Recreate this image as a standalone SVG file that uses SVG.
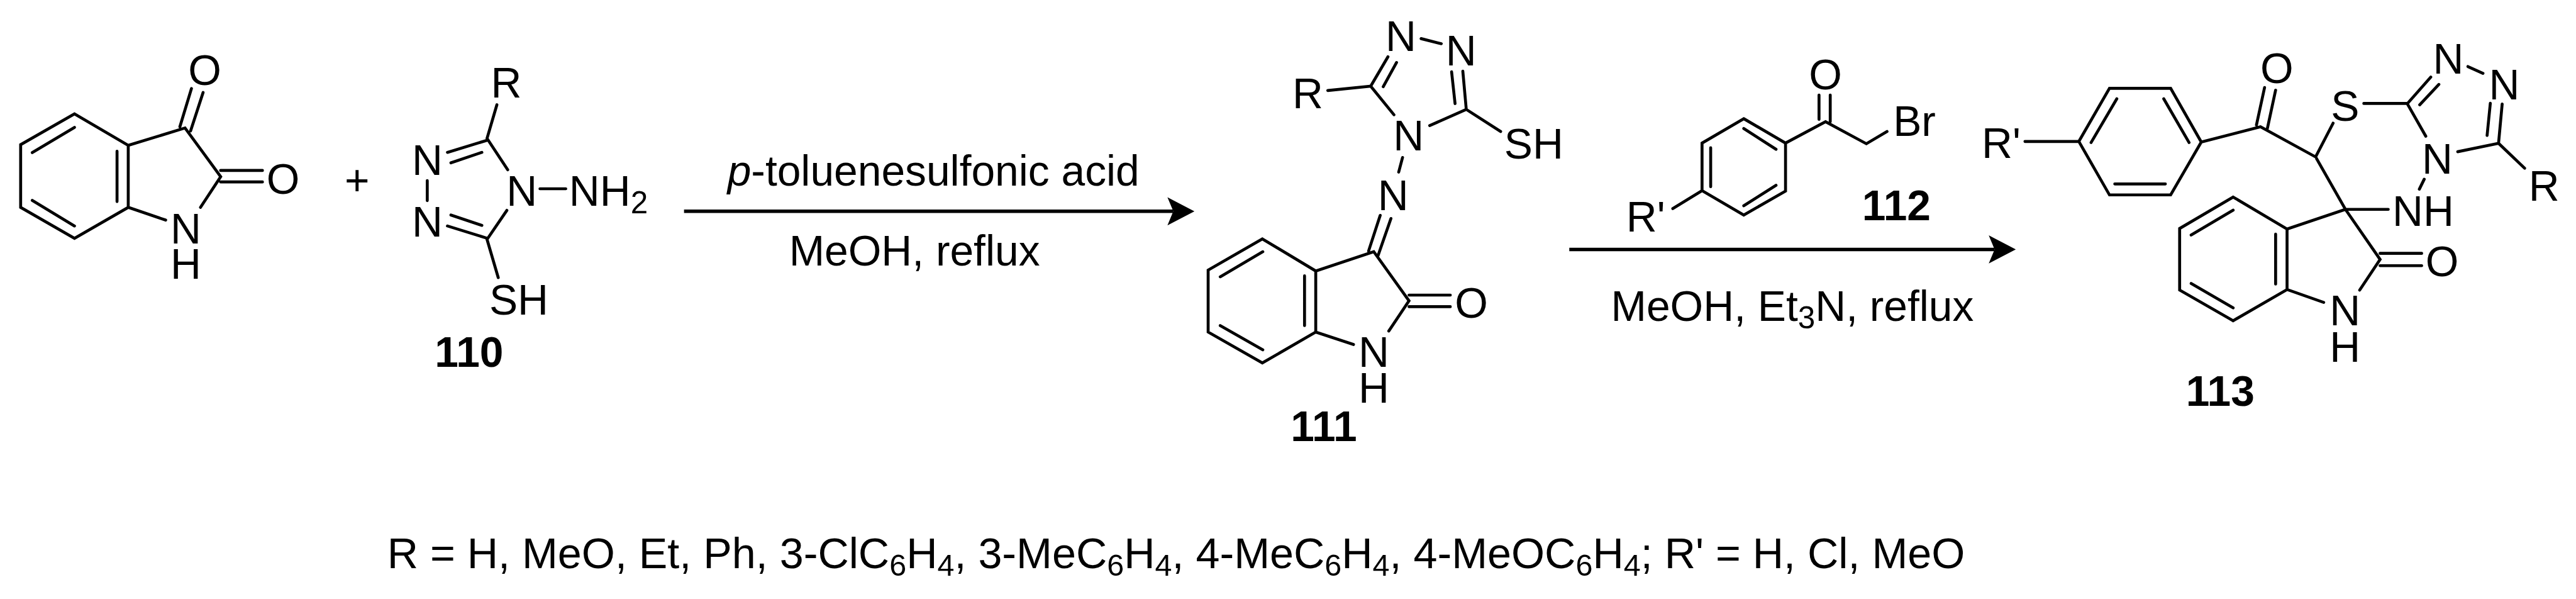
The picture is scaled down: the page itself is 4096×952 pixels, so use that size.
<svg xmlns="http://www.w3.org/2000/svg" width="4096" height="952" viewBox="0 0 4096 952">
<style>
text{font-family:"Liberation Sans",Arial,sans-serif;font-size:72.6px;fill:#000}
.m{text-anchor:middle}
.b{font-weight:bold}
.bond{fill:none;stroke:#000;stroke-width:5;stroke-linecap:round;stroke-linejoin:miter}
.arrow{fill:none;stroke:#000;stroke-width:6}
.s{font-size:53px}
.f{font-size:73.2px}
.fs{font-size:52px}
</style>
<defs>
<marker id="head" markerUnits="userSpaceOnUse" viewBox="0 -24 46 48" markerWidth="46" markerHeight="48" refX="10" refY="0" orient="auto">
<path d="M0,-24L46,0L0,24L10,0Z" fill="#000"/>
</marker>
</defs>
<rect width="4096" height="952" fill="#fff"/>
<g transform="scale(0.93281)">
<g id="connectors">
<line class="arrow" x1="1166" y1="360" x2="2000" y2="360" marker-end="url(#head)"/>
<line class="arrow" x1="2675" y1="425" x2="3400" y2="425" marker-end="url(#head)"/>
</g>
<g id="isatin">
<path class="bond" d="M127,194L218.6,247.7V353.3L127,406L35.2,353.3V246.5ZM127,217L55,260M199.5,257.6V343.4M55,341.4L127,385M218.6,247.7L315.4,218L376.2,301L341.8,353.3M218.6,353.3L282.4,375M306.6,216L326.4,150.8M324.9,223L346.2,157.6M376,290.4H447.4M376,310H447.4"/>
<text class="m" x="349" y="145">O</text>
<text class="m" x="482.6" y="330">O</text>
<text class="m" x="316.8" y="414.6">N<tspan x="316.8" dy="60.4">H</tspan></text>
</g>
<g id="plus"><text class="m" x="608.7" y="332">+</text></g>
<g id="triazole-110">
<path class="bond" d="M830.2,235.8L847,178.5M830.2,235.8L865.4,289.2M830.2,407.9L864,358.4M830.2,239L762.7,259.6M821.4,259.6L768.6,277.4M830.2,405.9L762.7,385M821.4,384L768.6,366.3M728.3,307.8V341.8M920.4,321.6H964.4M830.2,407.9L849.3,473"/>
<text class="m" x="863" y="166.6">R</text>
<text class="m" x="728.3" y="298.3">N</text>
<text class="m" x="728.3" y="403">N</text>
<text class="m" x="889.6" y="350.5">N</text>
<text x="970" y="350.5">NH<tspan class="s" dy="13">2</tspan></text>
<text x="834" y="535.6">SH</text>
<text class="b" x="741" y="625.3">110</text>
</g>
<g id="reagents-1">
<text x="1240" y="316"><tspan font-style="italic">p</tspan>-toluenesulfonic acid</text>
<text x="1345" y="452.7">MeOH, reflux</text>
</g>
<g id="compound-111">
<path class="bond" d="M2151.8,407L2242.8,461.7V565.7L2151.8,618.4L2059.4,565.7V460.2ZM2152.6,428.9L2080,471.6M2223.7,470V554.7M2080,554.7L2152.6,596M2242.8,461.7L2341.7,428.8L2401.8,512.6L2367.3,564M2242.8,565.7L2307.2,587M2401.8,502.8H2472.2M2401.8,522.5H2472.2M2332.9,427.6L2352.7,367M2349,435.5L2371,372.3M2390.8,268.3L2384.2,293.2M2263.3,154.2L2336.5,146.9L2376.1,195.5M2336.5,146.9L2365.9,96.7M2357.8,147.7L2380.5,106.5M2422.4,65.8L2456.8,74.5M2499.4,186.4L2493.5,121.2M2480.3,176.5L2474.4,122.4M2499.4,186.4L2437,214M2499.4,186.4L2558,224"/>
<text x="2203" y="184">R</text>
<text class="m" x="2387.9" y="86.4">N</text>
<text class="m" x="2490.6" y="111.3">N</text>
<text class="m" x="2401" y="256.4">N</text>
<text x="2564" y="270.2">SH</text>
<text class="m" x="2374.7" y="357.6">N</text>
<text class="m" x="2508" y="541.5">O</text>
<text class="m" x="2341.7" y="625.3">N<tspan x="2341.7" dy="60.7">H</tspan></text>
<text class="b" x="2200" y="751">111</text>
</g>
<g id="compound-112">
<path class="bond" d="M2972.4,202.2L3043.6,243.8V325.6L2972.4,366.3L2901.3,324.8V243.8ZM2972.4,219L3027.4,254.4M2916,251.7V318M2972.4,350.5L3027.4,315.7M3043.6,243.8L3111.8,207.4L3181.4,244.9L3216.6,224M3100.7,203.4V161.9M3119.8,207.4V161.9M2901.3,324.8L2851.4,355.3"/>
<text class="m" x="3111.8" y="152">O</text>
<text x="3227" y="231.9">Br</text>
<text x="2772" y="394">R'</text>
<text class="b" x="3174" y="375">112</text>
</g>
<g id="reagents-2">
<text x="2746" y="546.2">MeOH, Et<tspan class="s" dy="13">3</tspan><tspan dy="-13">N, reflux</tspan></text>
</g>
<g id="compound-113">
<path class="bond" d="M3595.8,150.4H3700.1L3752.3,242L3700.1,332.1H3595.8L3543.6,241ZM3608.3,168.3L3564.4,242.9M3688.3,168.3L3731.5,242.9M3604.8,313.4H3691.1M3543.6,241H3451.7M3752.3,242L3853.2,216L3947.2,267.4L3977,209.8M3846.3,213L3860.2,149.1M3865,218.8L3879,153.6M4029.3,176.3H4103.8L4143.5,131.3M4124.6,178.6L4157.3,143.8M4206.8,113.4L4232.5,125M4259,244.2L4265.2,177.2M4239.5,230.8L4245,175.9M4259,244.2L4189.4,258.5M4103.8,177.2L4135,232.1M4259,244.2L4303.5,286.6M4132.3,305.4L4124,322.3M3947.2,267.4L3998,356.7H4071M3998,356.7L3898.5,390.2M3998,356.7L4057.1,442L4022.3,494.2M3806.6,335.7L3898.5,390.2V493.3L3806.6,546.4L3715.4,494.2V389.3ZM3806.6,358L3735,400.4M3879,399V483.9M3735,483L3806.6,524.6M4057,431.7H4128M4057,452.7H4128M3898.5,493.3L3961,515.2"/>
<text x="3378" y="269.6">R'</text>
<text class="m" x="3881" y="141.5">O</text>
<text class="m" x="3997.3" y="205.4">S</text>
<text class="m" x="4173.3" y="125.9">N</text>
<text class="m" x="4268.7" y="169.6">N</text>
<text class="m" x="4154.6" y="295.5">N</text>
<text x="4078" y="384.8">NH</text>
<text x="4310.4" y="342.4">R</text>
<text class="m" x="4162.9" y="470.5">O</text>
<text class="m" x="3997.3" y="554.5">N<tspan x="3997.3" dy="61.5">H</tspan></text>
<text class="b" x="3726" y="691.5">113</text>
</g>
<g id="footnote">
<text class="f" x="660" y="968">R = H, MeO, Et, Ph, 3-ClC<tspan class="fs" dy="13">6</tspan><tspan dy="-13">H</tspan><tspan class="fs" dy="13">4</tspan><tspan dy="-13">, 3-MeC</tspan><tspan class="fs" dy="13">6</tspan><tspan dy="-13">H</tspan><tspan class="fs" dy="13">4</tspan><tspan dy="-13">, 4-MeC</tspan><tspan class="fs" dy="13">6</tspan><tspan dy="-13">H</tspan><tspan class="fs" dy="13">4</tspan><tspan dy="-13">, 4-MeOC</tspan><tspan class="fs" dy="13">6</tspan><tspan dy="-13">H</tspan><tspan class="fs" dy="13">4</tspan><tspan dy="-13">; R' = H, Cl, MeO</tspan></text>
</g>
</g>
</svg>
